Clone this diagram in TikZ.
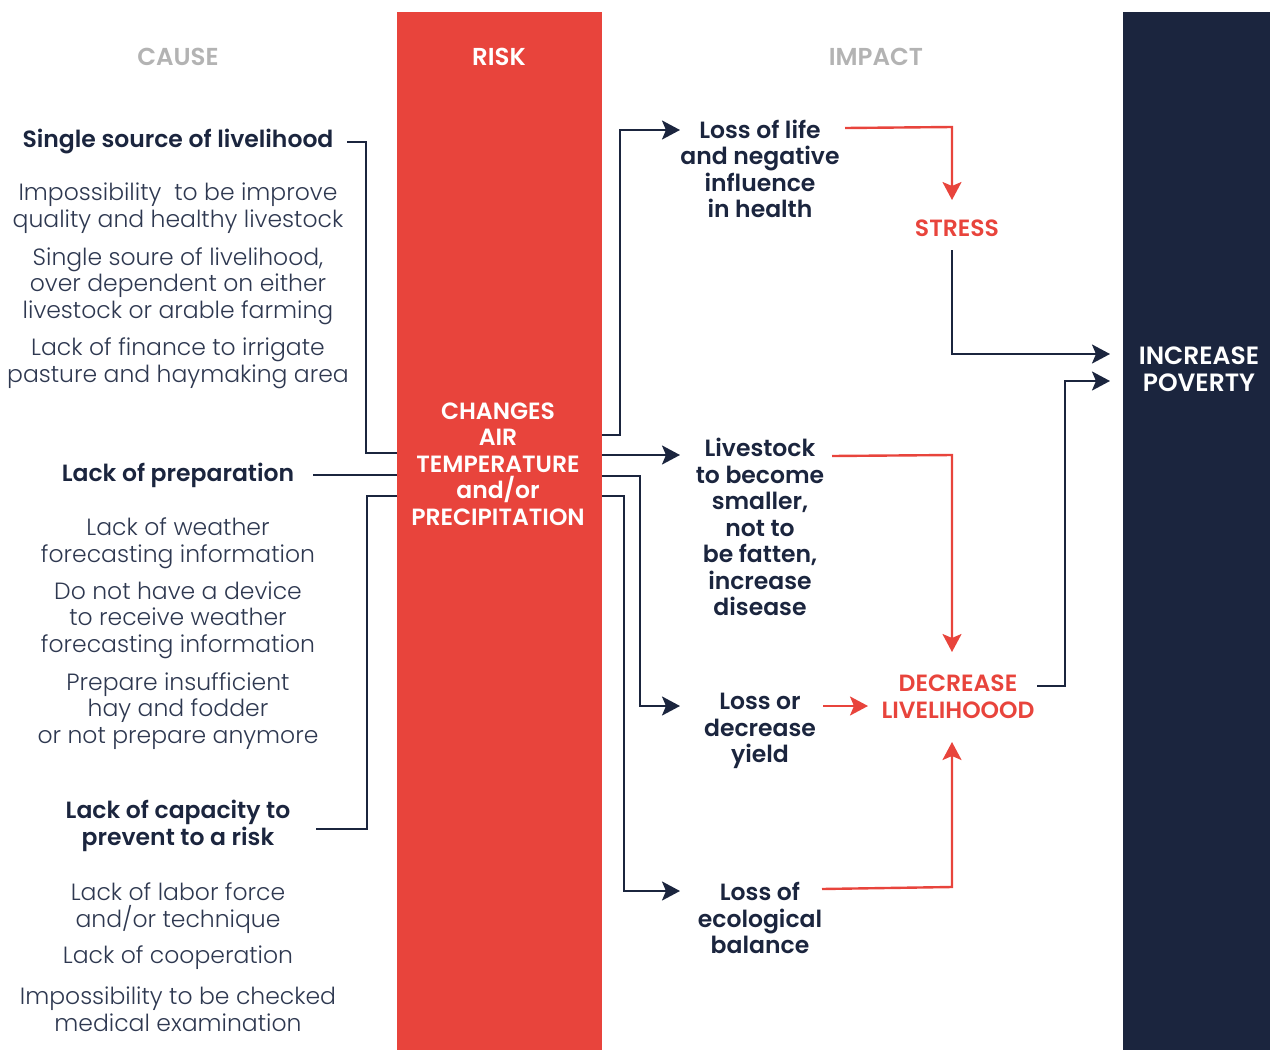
\documentclass[tikz,border=0pt]{standalone}
\usepackage{fontspec}
\setmainfont{Poppins}[UprightFont=* Light, BoldFont=* SemiBold]
\usetikzlibrary{arrows.meta}
\definecolor{navy}{HTML}{1B253E}
\definecolor{riskred}{HTML}{E8443C}
\definecolor{headgray}{HTML}{B3B3B3}
\definecolor{textgray}{HTML}{2E3850}

\tikzset{
  cause/.style={align=center, inner sep=0pt, text=textgray, font=\fontsize{23.5}{26.5}\selectfont},
  main/.style={align=center, inner sep=0pt, text=navy, font=\fontsize{23.5}{26.5}\selectfont\bfseries},
  alert/.style={main, text=riskred},
  head/.style={main, text=headgray, font=\fontsize{24.5}{26.5}\selectfont\bfseries},
  link/.style={draw=navy, line width=2.4pt},
  arr/.style={link, -{Stealth[length=18pt,width=19pt,inset=4pt]}},
  redarr/.style={arr, draw=riskred, color=riskred},
}

\begin{document}
\begin{tikzpicture}[x=1pt, y=-1pt]
		\useasboundingbox (0,0) rectangle (1270,1050);
		% columns
		\node[fill=riskred, minimum width=205pt, minimum height=1038pt, inner sep=0pt] (riskbar) at (499.5,531) {};
		\node[fill=navy, minimum width=147pt, minimum height=1038pt, inner sep=0pt] (povbar) at (1196.5,531) {};
		
		\node[head] (hcause) at (178,57) {CAUSE};
		\node[head, text=white] (hrisk) at (499,57) {RISK};
		\node[head] (himpact) at (876,57) {IMPACT};
		
		\node[main, text=white] (risk) at (498,464) {CHANGES\\AIR\\TEMPERATURE\\and/or\\PRECIPITATION};
		\node[main, text=white, font=\fontsize{25}{27}\selectfont\bfseries] (poverty) at (1199,369) {INCREASE\\POVERTY};
		
		% cause
		\node[main] (src) at (178,141) {Single source of livelihood};
		\node[cause] (src1) at (178,208) {Impossibility\ \ to be improve\\quality and healthy livestock};
		\node[cause] (src2) at (178,286) {Single soure of livelihood,\\over dependent on either\\livestock or arable farming};
		\node[cause] (src3) at (178,363) {Lack of finance to irrigate\\pasture and haymaking area};
		
		\node[main] (prep) at (178,475) {Lack of preparation};
		\node[cause] (prep1) at (178,543) {Lack of weather\\forecasting information};
		\node[cause] (prep2) at (178,620) {Do not have a device\\to receive weather\\forecasting information};
		\node[cause] (prep3) at (178,711) {Prepare insufficient\\hay and fodder\\or not prepare anymore};
		
		\node[main] (cap) at (178,826) {Lack of capacity to\\prevent to a risk};
		\node[cause] (cap1) at (178,908) {Lack of labor force\\and/or technique};
		\node[cause] (cap2) at (178,958) {Lack of cooperation};
		\node[cause] (cap3) at (178,1009) {Impossibility to be checked\\medical examination};
		
		% impact
		\node[main] (life) at (760,169) {Loss of life\\and negative\\influence\\in health};
		\node[main] (stock) at (760,527) {Livestock\\to become\\smaller,\\not to\\be fatten,\\increase\\disease};
		\node[main] (yield) at (760,731) {Loss or\\decrease\\yield};
		\node[main] (eco) at (760,918) {Loss of\\ecological\\balance};
		
		\node[alert] (stress) at (957,228) {STRESS};
		\node[alert] (decr) at (958,697) {DECREASE\\LIVELIHOOOD};
		
		% cause -> risk
		\draw[link] (347,142) -- (366,142) -- (366,453) -- (riskbar.west |- 0,453);
		\draw[link] (313,475) -- (riskbar.west |- 0,475);
		\draw[link] (316,829) -- (367,829) -- (367,496) -- (riskbar.west |- 0,496);
		
		% risk -> impact
		\draw[arr] (riskbar.east |- 0,435) -- (620,435) -- (620,130) -- (680,130);
		\draw[arr] (riskbar.east |- 0,455) -- (680,455);
		\draw[arr] (riskbar.east |- 0,476) -- (640,476) -- (640,706) -- (680,706);
		\draw[arr] (riskbar.east |- 0,496) -- (624,496) -- (624,891) -- (680,891);
		
		% impact -> stress / livelihood
		\draw[redarr] (845,128) -- (952,127) -- (952,200);
		\draw[redarr] (832,456) -- (952,455) -- (952,652);
		\draw[redarr] (823,706) -- (868,706);
		\draw[redarr] (822,889) -- (952,887) -- (952,742);
		
		% -> poverty
		\draw[arr] (952,250) -- (952,354) -- (1110,354);
		\draw[arr] (1037,686) -- (1065,686) -- (1065,381) -- (1110,381);
\end{tikzpicture}
\end{document}
